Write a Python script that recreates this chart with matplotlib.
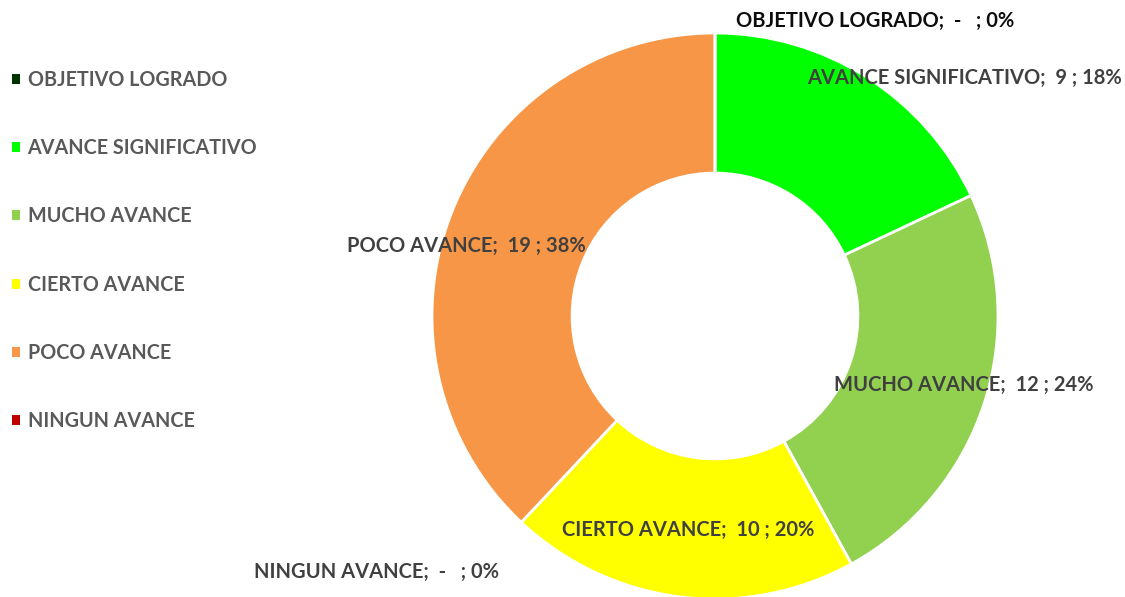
import matplotlib
matplotlib.use("Agg")
import matplotlib.pyplot as plt

categories = ["OBJETIVO LOGRADO", "AVANCE SIGNIFICATIVO", "MUCHO AVANCE",
              "CIERTO AVANCE", "POCO AVANCE", "NINGUN AVANCE"]
values = [0, 9, 12, 10, 19, 0]
percent_labels = ["0%", "18%", "24%", "20%", "38%", "0%"]
value_labels = ["-  ", "9", "12", "10", "19", "-  "]
colors = ["#003300", "#00FF00", "#92D050", "#FFFF00", "#F79646", "#C00000"]

W, H = 1125, 597
fig = plt.figure(figsize=(W / 100, H / 100), dpi=100)
ax = fig.add_axes([0, 0, 1, 1])

cx, cy, R = 715, H - 316, 283
wedges, _ = ax.pie(values, colors=colors, startangle=90, counterclock=False,
                   center=(cx, cy), radius=R, frame=True,
                   wedgeprops=dict(width=R * 0.495, edgecolor="white", linewidth=2))
ax.set_xlim(0, W)
ax.set_ylim(0, H)
ax.set_aspect("equal")
ax.axis("off")

font = ["Lato", "DejaVu Sans"]
label_pos = [(875, 21), (964, 78), (964, 385), (688, 530), (466, 246), (377, 572)]
label_cols = ["#0D0D0D", "#404040", "#404040", "#404040", "#404040", "#404040"]
for cat, v, p, (x, y), c in zip(categories, value_labels, percent_labels, label_pos, label_cols):
    ax.text(x, H - y, f"{cat};  {v} ; {p}", ha="center", va="center",
            fontsize=14.5, fontweight="bold", color=c, family=font)

leg = ax.legend(wedges, categories, loc="upper left", bbox_to_anchor=(-6 / W, 1 - 52 / H),
                frameon=False, handlelength=0.4, handleheight=0.4, handletextpad=0.4,
                labelspacing=2.45, borderaxespad=0.5,
                prop=dict(family=font, weight="bold", size=14.2))
for t in leg.get_texts():
    t.set_color("#595959")
for h in leg.legend_handles:
    h.set_edgecolor("none")

fig.savefig("out.png", dpi=100)
